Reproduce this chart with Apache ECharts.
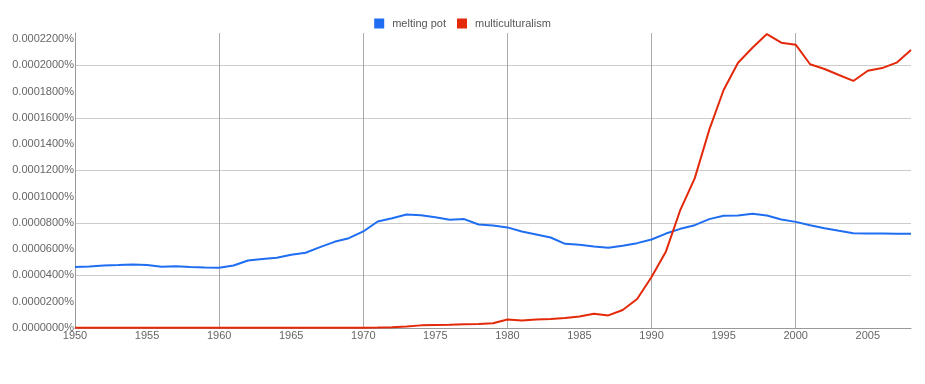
<!DOCTYPE html>
<html>
<head>
<meta charset="utf-8">
<script src="https://cdn.jsdelivr.net/npm/echarts@6/dist/echarts.min.js"></script>
<style>
html,body{margin:0;padding:0;background:#fff;}
#chart{width:925px;height:384px;}
</style>
</head>
<body>
<div id="chart"></div>
<script>
var years = [];
for (var y = 1950; y <= 2008; y++) years.push(String(y));

var seriesNames = ['melting pot', 'multiculturalism'];

var meltingPot = [
  46.4e-6, 46.9e-6, 47.6e-6, 47.9e-6, 48.4e-6, 47.9e-6, 46.6e-6, 47.1e-6, 46.4e-6, 46.1e-6,
  45.9e-6, 47.6e-6, 51.4e-6, 52.5e-6, 53.5e-6, 55.7e-6, 57.3e-6, 61.6e-6, 65.6e-6, 68.4e-6,
  73.5e-6, 81.1e-6, 83.6e-6, 86.4e-6, 85.9e-6, 84.4e-6, 82.4e-6, 82.9e-6, 78.8e-6, 78.0e-6,
  76.6e-6, 73.5e-6, 71.2e-6, 68.9e-6, 64.1e-6, 63.3e-6, 62.1e-6, 61.1e-6, 62.6e-6, 64.6e-6,
  67.4e-6, 71.9e-6, 75.5e-6, 78.3e-6, 82.9e-6, 85.4e-6, 85.6e-6, 86.9e-6, 85.6e-6, 82.6e-6,
  80.8e-6, 78.3e-6, 76.0e-6, 74.0e-6, 72.2e-6, 71.9e-6, 71.9e-6, 71.7e-6, 71.7e-6
];

var multiculturalism = [
  0.1e-6, 0.1e-6, 0.1e-6, 0.1e-6, 0.1e-6, 0.1e-6, 0.1e-6, 0.1e-6, 0.1e-6, 0.1e-6,
  0.2e-6, 0.2e-6, 0.2e-6, 0.2e-6, 0.2e-6, 0.2e-6, 0.2e-6, 0.2e-6, 0.2e-6, 0.2e-6,
  0.2e-6, 0.3e-6, 0.6e-6, 1.2e-6, 2.0e-6, 2.3e-6, 2.5e-6, 2.8e-6, 3.0e-6, 3.6e-6,
  6.4e-6, 5.8e-6, 6.5e-6, 6.8e-6, 7.6e-6, 8.8e-6, 10.9e-6, 9.6e-6, 13.7e-6, 22.1e-6,
  38.8e-6, 58.3e-6, 90.0e-6, 114.1e-6, 150.8e-6, 181.2e-6, 202.0e-6, 213.4e-6, 223.8e-6, 217.2e-6,
  215.7e-6, 200.8e-6, 197.2e-6, 192.6e-6, 188.1e-6, 195.9e-6, 197.9e-6, 202.0e-6, 211.6e-6
];

var yMin = 0;
var yMax = 0.0002246;
var yLabelStep = 0.00002;
var yGridStep = 0.00004;

var chart = echarts.init(document.getElementById('chart'), null, {renderer: 'canvas'});
var font = "'Liberation Sans', Arial, sans-serif";

chart.setOption({
  animation: false,
  backgroundColor: '#ffffff',
  legend: {
    top: 13,
    left: 'center',
    itemWidth: 10,
    itemHeight: 10,
    itemGap: 11,
    icon: 'rect',
    data: seriesNames,
    textStyle: {color: '#555', fontSize: 11, fontFamily: font, padding: [0, 0, 0, 3]}
  },
  grid: {left: 75, right: 14, top: 33, bottom: 56, containLabel: false},
  xAxis: {
    type: 'category',
    data: years,
    boundaryGap: false,
    axisLine: {show: true, lineStyle: {color: '#999', width: 1}},
    axisTick: {show: false},
    axisLabel: {
      color: '#666', fontSize: 11, fontFamily: font, margin: 2,
      interval: function (i) { return i % 5 === 0; }
    },
    splitLine: {
      show: true,
      interval: function (i) { return i % 10 === 0 && i > 0; },
      lineStyle: {color: '#aaa', width: 1}
    }
  },
  yAxis: [
    {
      type: 'value', min: yMin, max: yMax, interval: yLabelStep, position: 'left',
      axisLine: {show: true, lineStyle: {color: '#999', width: 1}},
      axisTick: {show: false},
      splitLine: {show: false},
      axisLabel: {
        color: '#666', fontSize: 11, fontFamily: font, margin: 1, showMaxLabel: false,
        formatter: function (v) { return v.toFixed(7) + '%'; }
      }
    },
    {
      type: 'value', min: yMin, max: yMax, interval: yGridStep, position: 'left',
      axisLine: {show: false}, axisTick: {show: false}, axisLabel: {show: false},
      splitLine: {show: true, showMaxLine: false, showMinLine: false, lineStyle: {color: '#ccc', width: 1}}
    }
  ],
  series: [
    {
      name: seriesNames[0], type: 'line', data: meltingPot, yAxisIndex: 0,
      showSymbol: false, symbol: 'none', clip: false,
      itemStyle: {color: '#1f6ef2'},
      lineStyle: {color: '#1f6ef2', width: 2}
    },
    {
      name: seriesNames[1], type: 'line', data: multiculturalism, yAxisIndex: 0,
      showSymbol: false, symbol: 'none', clip: false,
      itemStyle: {color: '#e3290a'},
      lineStyle: {color: '#e3290a', width: 2}
    }
  ]
});
</script>
</body>
</html>
